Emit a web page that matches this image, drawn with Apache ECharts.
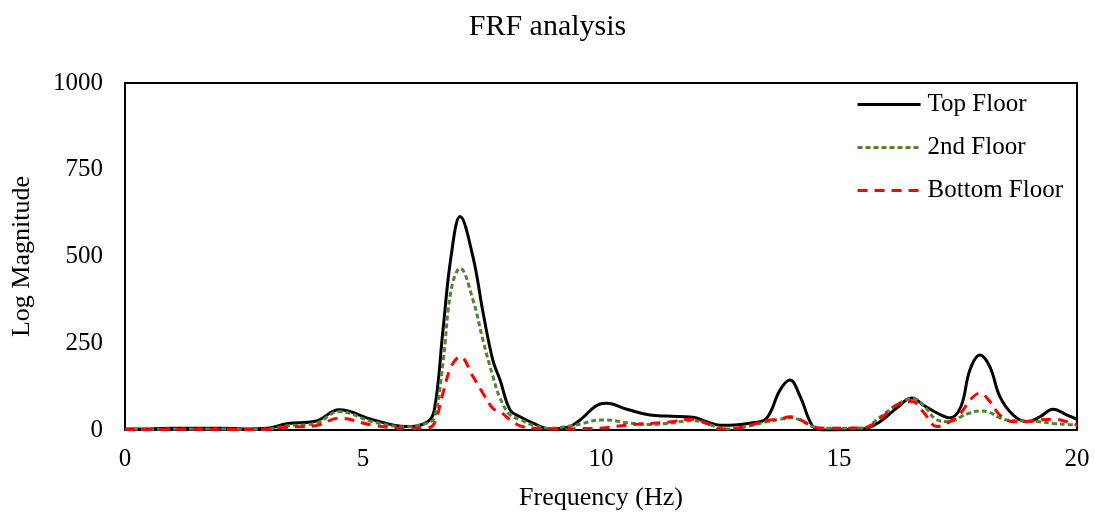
<!DOCTYPE html>
<html><head><meta charset="utf-8">
<script src="https://cdn.jsdelivr.net/npm/echarts@6/dist/echarts.min.js"></script>
<style>html,body{margin:0;padding:0;background:#fff}#c{width:1095px;height:518px}</style>
</head><body><div id="c"></div>
<script>
const freq = [0,0.5,1,1.5,2,2.5,3,3.4,4.0,4.5,5.2,5.9,6.34,6.5,6.68,6.85,7.04,7.31,7.52,7.73,7.88,8.09,8.3,8.57,8.93,9.28,9.56,9.98,10.12,10.54,11.03,11.38,11.93,12.22,12.5,12.7,13.19,13.48,13.76,13.97,14.18,14.45,14.66,15.5,15.86,16.21,16.53,16.77,17.06,17.33,17.56,17.75,17.96,18.17,18.38,18.66,18.95,19.22,19.5,19.79,20];
const topFloor = [3,3,5,5,5,3,5,18,25,58,30,10,22,58,288,500,615,499,340,200,144,58,38,20,3,7,29,75,77,60,43,40,37,24,14,14,21,34,115,144,98,10,0,3,24,63,92,72,49,35,67,173,216,182,96,43,24,38,60,43,31];
const secondFloor = [2,2,3,3,3,2,3,12,19,53,24,9,20,35,193,403,466,375,259,154,92,43,30,14,5,10,17,29,29,21,16,19,27,19,5,3,14,24,31,35,29,10,5,6,37,72,91,72,29,24,38,49,55,50,35,27,27,24,19,16,14];
const bottomFloor = [1,1,2,2,2,1,2,8,12,34,14,5,5,20,106,182,211,154,106,62,53,29,12,5,3,3,4,5,7,14,19,22,31,19,3,3,16,27,31,38,30,10,5,6,31,72,82,52,10,24,49,86,106,82,43,24,24,29,31,24,14];
const seriesNames = ['Top Floor','2nd Floor','Bottom Floor'];
const yTicks = [0,250,500,750,1000];
const xTicks = [0,5,10,15,20];

const pair = arr => freq.map((f,i)=>[f,arr[i]]);
const font = 'Liberation Serif';
const chart = echarts.init(document.getElementById('c'));
chart.setOption({
  animation:false,
  title:{text:'FRF analysis',left:'center',top:7,textStyle:{fontFamily:font,fontSize:30,fontWeight:'normal',color:'#000'}},
  legend:{right:27,top:87,orient:'vertical',itemGap:18,itemWidth:63,itemHeight:14,
    itemStyle:{opacity:0},lineStyle:{width:3},
    textStyle:{fontFamily:font,fontSize:25,color:'#000',padding:[0,0,0,2]},data:seriesNames},
  grid:{left:125,right:18,top:83,bottom:88,show:true,borderColor:'#000',borderWidth:2},
  xAxis:{type:'value',min:xTicks[0],max:xTicks[xTicks.length-1],interval:5,
    name:'Frequency (Hz)',nameLocation:'middle',nameGap:55,
    nameTextStyle:{fontFamily:font,fontSize:26,color:'#000'},
    axisLine:{lineStyle:{color:'#000',width:2}},axisTick:{show:false},splitLine:{show:false},
    axisLabel:{fontFamily:font,fontSize:25,color:'#000',margin:17}},
  yAxis:{type:'value',min:yTicks[0],max:yTicks[yTicks.length-1],interval:250,
    name:'Log Magnitude',nameLocation:'middle',nameGap:90,nameRotate:90,
    nameTextStyle:{fontFamily:font,fontSize:26,color:'#000'},
    axisLine:{show:true,lineStyle:{color:'#000',width:2}},axisTick:{show:false},splitLine:{show:false},
    axisLabel:{fontFamily:font,fontSize:25,color:'#000',margin:22,formatter:v=>String(v)}},
  series:[
    {name:seriesNames[0],type:'line',data:pair(topFloor),smooth:0.4,symbol:'none',z:3,
      lineStyle:{color:'#000',width:3},itemStyle:{color:'#000'}},
    {name:seriesNames[1],type:'line',data:pair(secondFloor),smooth:0.4,symbol:'none',z:4,
      lineStyle:{color:'#548235',width:3,type:[5,3]},itemStyle:{color:'#548235'}},
    {name:seriesNames[2],type:'line',data:pair(bottomFloor),smooth:0.4,symbol:'none',z:5,
      lineStyle:{color:'#FF0000',width:3,type:[10,7]},itemStyle:{color:'#FF0000'}}
  ]
});
</script></body></html>
